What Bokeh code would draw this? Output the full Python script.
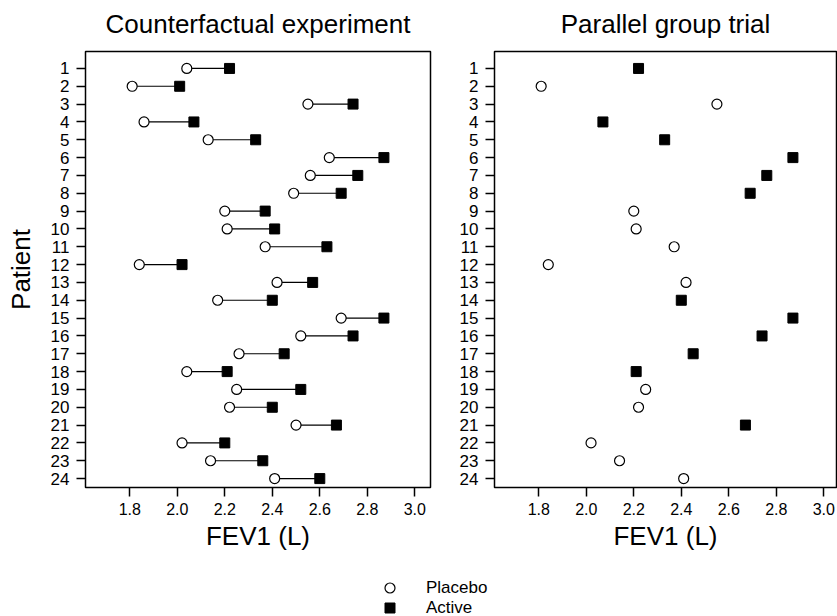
from bokeh.plotting import figure
from bokeh.models import Range1d, FixedTicker, Legend, LegendItem
from bokeh.layouts import column, row
from bokeh.embed import file_html
from bokeh.resources import INLINE

# ---------------- data ----------------
patients = list(range(1, 25))
placebo = [2.04, 1.81, 2.55, 1.86, 2.13, 2.64, 2.56, 2.49, 2.20, 2.21, 2.37, 1.84,
           2.42, 2.17, 2.69, 2.52, 2.26, 2.04, 2.25, 2.22, 2.50, 2.02, 2.14, 2.41]
active = [2.22, 2.01, 2.74, 2.07, 2.33, 2.87, 2.76, 2.69, 2.37, 2.41, 2.63, 2.02,
          2.57, 2.40, 2.87, 2.74, 2.45, 2.21, 2.52, 2.40, 2.67, 2.20, 2.36, 2.60]
parallel_arm = ["A", "P", "P", "A", "A", "A", "A", "A", "P", "P", "P", "P",
                "P", "A", "A", "A", "A", "A", "P", "P", "A", "P", "P", "P"]
x_ticks = [1.8, 2.0, 2.2, 2.4, 2.6, 2.8, 3.0]
x_tick_labels = ["1.8", "2.0", "2.2", "2.4", "2.6", "2.8", "3.0"]
y_tick_labels = [str(i) for i in patients]
titles = ["Counterfactual experiment", "Parallel group trial"]
x_label = "FEV1 (L)"
y_label = "Patient"
legend_labels = ["Placebo", "Active"]

FONT = "Liberation Sans"
X0 = 1.6135
PX_PER_UNIT = 237.5
NAN = float("nan")


def style(p, title, show_ylabel):
    p.title.text = title
    p.title.align = "center"
    p.title.text_font = FONT
    p.title.text_font_size = "26px"
    p.title.text_font_style = "normal"
    p.title.text_color = "black"
    p.title.standoff = 12
    p.title.padding = dict(left=0, right=0, top=0, bottom=7)
    p.outline_line_color = "black"
    p.outline_line_width = 1.5
    p.outline_line_alpha = 1.0
    p.xgrid.visible = False
    p.ygrid.visible = False
    p.background_fill_color = "white"
    p.border_fill_color = "white"

    p.xaxis.ticker = FixedTicker(ticks=x_ticks)
    p.xaxis.major_label_overrides = {t: l for t, l in zip(x_ticks, x_tick_labels)}
    p.yaxis.ticker = FixedTicker(ticks=patients)
    p.yaxis.major_label_overrides = {t: l for t, l in zip(patients, y_tick_labels)}
    for ax in (p.xaxis[0], p.yaxis[0]):
        ax.axis_line_color = None
        ax.major_tick_in = 0
        ax.major_tick_out = 9
        ax.major_tick_line_width = 1.5
        ax.major_tick_line_color = "black"
        ax.minor_tick_line_color = None
        ax.major_label_text_font = FONT
        ax.major_label_text_color = "black"
        ax.axis_label_text_font = FONT
        ax.axis_label_text_font_size = "26px"
        ax.axis_label_text_font_style = "normal"
        ax.axis_label_text_color = "black"
    p.xaxis.major_label_text_font_size = "16px"
    p.yaxis.major_label_text_font_size = "17px"
    p.xaxis.major_label_standoff = 6
    p.yaxis.major_label_standoff = 7
    p.yaxis.major_label_orientation = "horizontal"
    p.xaxis.axis_label = x_label
    p.xaxis.axis_label_standoff = 3
    if show_ylabel:
        p.yaxis.axis_label = y_label
        p.yaxis.axis_label_standoff = 12


# left panel: frame 85..430 px, top 49, bottom 487
p1 = figure(width=434, height=560, output_backend="svg", toolbar_location=None,
            x_range=Range1d(X0, X0 + 345 / PX_PER_UNIT), y_range=Range1d(24.5, 0.05),
            min_border_left=85, min_border_right=4, min_border_top=49, min_border_bottom=73)
style(p1, titles[0], True)
p1.segment(x0=placebo, y0=patients, x1=active, y1=patients, line_color="black", line_width=1.2)
p1.scatter(x=placebo, y=patients, marker="circle", size=10, fill_color="white",
           line_color="black", line_width=1.2)
p1.scatter(x=active, y=patients, marker="square", size=10, fill_color="black",
           line_color="black", line_width=1)

# right panel: frame 494..836 px
par_p_x = [v for v, a in zip(placebo, parallel_arm) if a == "P"]
par_p_y = [i for i, a in zip(patients, parallel_arm) if a == "P"]
par_a_x = [v for v, a in zip(active, parallel_arm) if a == "A"]
par_a_y = [i for i, a in zip(patients, parallel_arm) if a == "A"]

p2 = figure(width=403, height=560, output_backend="svg", toolbar_location=None,
            x_range=Range1d(X0, X0 + 342 / PX_PER_UNIT), y_range=Range1d(24.5, 0.05),
            min_border_left=60, min_border_right=1, min_border_top=49, min_border_bottom=73)
style(p2, titles[1], False)
p2.scatter(x=par_p_x, y=par_p_y, marker="circle", size=10, fill_color="white",
           line_color="black", line_width=1.2)
p2.scatter(x=par_a_x, y=par_a_y, marker="square", size=10, fill_color="black",
           line_color="black", line_width=1)

# legend strip
p3 = figure(width=837, height=56, output_backend="svg", toolbar_location=None,
            x_range=Range1d(0, 1), y_range=Range1d(0, 1), min_border=0)
p3.axis.visible = False
p3.xgrid.visible = False
p3.ygrid.visible = False
p3.outline_line_color = None
r_c = p3.scatter(x=[NAN], y=[NAN], marker="circle", size=10, fill_color="white",
                 line_color="black", line_width=1.2)
r_s = p3.scatter(x=[NAN], y=[NAN], marker="square", size=10, fill_color="black",
                 line_color="black", line_width=1)


def make_legend(label, rend, loc):
    return Legend(items=[LegendItem(label=label, renderers=[rend])],
                  location=loc, orientation="vertical",
                  glyph_width=25, glyph_height=25, label_height=17, label_width=60,
                  spacing=0, padding=0, margin=0, label_standoff=24,
                  label_text_font=FONT, label_text_font_size="17px",
                  label_text_color="black",
                  border_line_color=None, background_fill_alpha=0)


p3.add_layout(make_legend(legend_labels[0], r_c, (377, 16)), "center")
p3.add_layout(make_legend(legend_labels[1], r_s, (377, -4)), "center")

layout = column(row(p1, p2), p3)
open("out.html", "w").write(file_html(layout, INLINE))
